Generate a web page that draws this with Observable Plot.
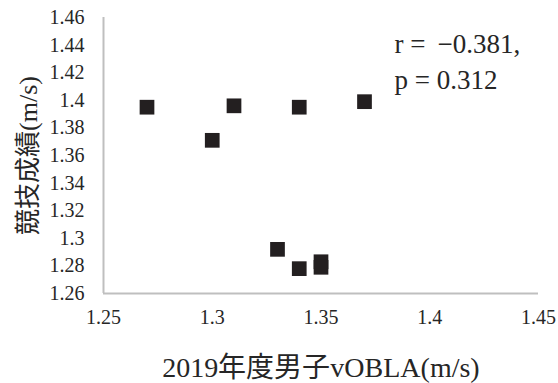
<!DOCTYPE html>
<html>
<head>
<meta charset="utf-8">
<script src="https://cdn.jsdelivr.net/npm/d3@7"></script>
<script src="https://cdn.jsdelivr.net/npm/@observablehq/plot@0.6"></script>
<style>
  @font-face {
    font-family: "JPOnly";
    src: local("Noto Sans CJK JP"), local("NotoSansCJKjp-Regular"), local("Noto Sans CJK JP Regular");
    unicode-range: U+3000-30FF, U+4E00-9FFF, U+FF00-FFEF;
  }
  html, body { margin: 0; padding: 0; background: #fff; }
  #chart svg { display: block; }
  #chart svg, #chart svg text, #chart svg g {
    font-family: "JPOnly", "Liberation Serif", "Times New Roman", serif, "Noto Sans CJK JP" !important;
  }
</style>
</head>
<body>
<div id="chart"></div>
<script>
const vobla = [1.27, 1.30, 1.31, 1.33, 1.34, 1.34, 1.35, 1.35, 1.37];
const speed = [1.395, 1.371, 1.396, 1.292, 1.395, 1.278, 1.283, 1.279, 1.399];
const xTicks = [1.25, 1.3, 1.35, 1.4, 1.45];
const yTicks = [1.26, 1.28, 1.3, 1.32, 1.34, 1.36, 1.38, 1.4, 1.42, 1.44, 1.46];
const xLabel = "2019年度男子vOBLA(m/s)";
const yLabel = "競技成績(m/s)";
const statsText = "r = \u2009\u22120.381,\np = 0.312";

const data = vobla.map((x, i) => ({x, y: speed[i]}));
const fmt = d => String(+d.toFixed(2));
const ink = "#262626";
const spine = "#bfbfbf";

const chart = Plot.plot({
  width: 558,
  height: 383,
  marginLeft: 103,
  marginRight: 20,
  marginTop: 17,
  marginBottom: 90,
  style: {background: "#fff", color: ink},
  x: {domain: [1.25, 1.45]},
  y: {domain: [1.26, 1.46]},
  marks: [
    Plot.ruleY([1.26], {stroke: spine, strokeWidth: 2}),
    Plot.ruleX([1.25], {stroke: spine, strokeWidth: 2}),
    Plot.axisX({ticks: xTicks, tickFormat: fmt, tickSize: 0, tickPadding: 16, fontSize: 20, label: null, fill: ink}),
    Plot.axisY({ticks: yTicks, tickFormat: fmt, tickSize: 0, tickPadding: 19, fontSize: 20, label: null, fill: ink}),
    Plot.dot(data, {x: "x", y: "y", symbol: "square", r: 8.3, fill: "#231f20", stroke: "none"}),
    Plot.text([statsText], {frameAnchor: "top-left", dx: 291, dy: 11, textAnchor: "start", lineAnchor: "top", lineHeight: 1.3, fontSize: 27, fill: ink}),
    Plot.text([xLabel], {frameAnchor: "bottom", dy: 75, textAnchor: "middle", lineAnchor: "middle", fontSize: 28, fill: ink}),
    Plot.text([yLabel], {frameAnchor: "left", dx: -75, textAnchor: "middle", lineAnchor: "middle", rotate: -90, fontSize: 26, fill: ink})
  ]
});
document.getElementById("chart").appendChild(chart);
</script>
</body>
</html>
